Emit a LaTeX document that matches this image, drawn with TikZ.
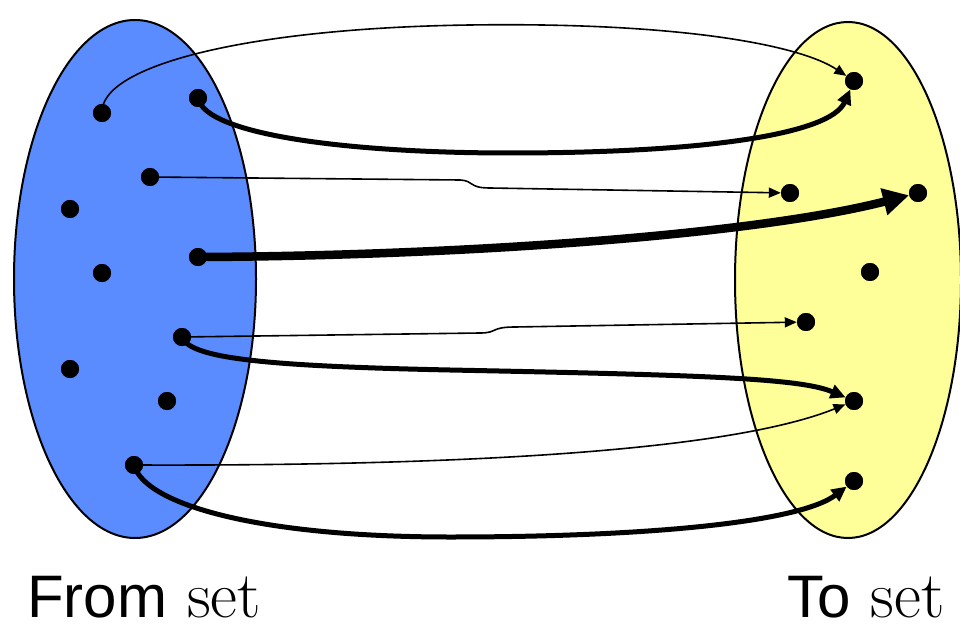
\documentclass[tikz,border=0pt]{standalone}
\usepackage{fontspec}
\newfontfamily\arialf{Liberation Sans}
\usetikzlibrary{arrows.meta}
\definecolor{fromblue}{RGB}{91,140,255}
\definecolor{toyellow}{RGB}{255,255,153}
\tikzset{
  dot/.style={circle,fill=black,minimum size=18pt,inner sep=0pt},
  setshape/.style={draw=black,line width=2pt},
  thinarrow/.style={line width=1.6pt,-{Triangle[length=12pt,width=10pt]}},
  thickarrow/.style={line width=5pt,-{Triangle[length=15pt,width=14pt]}},
  heavyarrow/.style={line width=8.5pt,-{Triangle[length=26pt,width=26pt]}},
  lbl/.style={inner sep=0pt,anchor=base west}
}
\begin{document}
\begin{tikzpicture}[x=1pt,y=-1pt]
\useasboundingbox (0,0) rectangle (960,628);
\fill[white] (0,0) rectangle (960,628);
\draw[setshape,fill=fromblue] (135,279) ellipse [x radius=121, y radius=259];
\draw[setshape,fill=toyellow] (848,280) ellipse [x radius=113, y radius=258];
% dots
\node[dot] (l1) at (102,113) {};
\node[dot] (l2) at (198,98) {};
\node[dot] (l3) at (150,177) {};
\node[dot] (l4) at (70,209) {};
\node[dot] (l5) at (102,273) {};
\node[dot] (l6) at (198,257) {};
\node[dot] (l7) at (182,337) {};
\node[dot] (l8) at (70,369) {};
\node[dot] (l9) at (167,401) {};
\node[dot] (l10) at (134,465) {};
\node[dot] (r1) at (854,81) {};
\node[dot] (r2) at (790,193) {};
\node[dot] (r3) at (918,193) {};
\node[dot] (r4) at (870,272) {};
\node[dot] (r5) at (806,322) {};
\node[dot] (r6) at (854,401) {};
\node[dot] (r7) at (854,481) {};
% connectors
\draw[thinarrow] (l1.center) .. controls (100,65) and (250,28) .. (470,25) .. controls (680,22) and (800,45) .. (r1);
\draw[thickarrow] (l2.center) .. controls (205,135) and (350,153) .. (510,153) .. controls (700,153) and (830,135) .. (r1);
\draw[thinarrow] (l3.center) -- (460,180) .. controls (475,181) and (468,188) .. (490,188) -- (r2);
\draw[heavyarrow] (l6.center) .. controls (450,256) and (750,236) .. (r3);
\draw[thinarrow] (l7.center) -- (480,333) .. controls (498,333) and (490,327) .. (515,327) -- (r5);
\draw[thickarrow] (l7.center) .. controls (190,358) and (260,366) .. (450,370) .. controls (700,375) and (800,378) .. (r6);
\draw[thinarrow] (l10.center) .. controls (420,466) and (720,455) .. (r6);
\draw[thickarrow] (l10.center) .. controls (145,505) and (260,537) .. (450,537) .. controls (650,537) and (800,522) .. (r7);
% redraw dots on top
\foreach \n in {l1,l2,l3,l4,l5,l6,l7,l8,l9,l10,r1,r2,r3,r4,r5,r6,r7}{\fill (\n) circle (9pt);}
% labels
\node[lbl] (from) at (27,617) {\arialf\fontsize{60}{66}\selectfont From\rmfamily\fontsize{66}{70}\selectfont{} set};
\node[lbl] (to) at (787,617) {\arialf\fontsize{60}{66}\selectfont To\rmfamily\fontsize{66}{70}\selectfont{} set};
\end{tikzpicture}
\end{document}
